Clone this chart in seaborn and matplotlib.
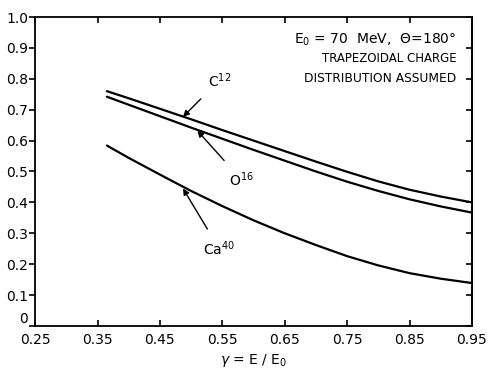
import numpy as np
import pandas as pd
import matplotlib
matplotlib.use("Agg")
import matplotlib.pyplot as plt
import seaborn as sns

# values
gamma = [0.365, 0.40, 0.45, 0.50, 0.55, 0.60, 0.65, 0.70, 0.75, 0.80, 0.85, 0.90, 0.95]
c12 = [0.760, 0.737, 0.703, 0.669, 0.634, 0.600, 0.566, 0.532, 0.499, 0.468, 0.441, 0.419, 0.400]
o16 = [0.742, 0.716, 0.679, 0.642, 0.606, 0.570, 0.535, 0.500, 0.467, 0.437, 0.410, 0.387, 0.367]
ca40 = [0.584, 0.544, 0.490, 0.437, 0.388, 0.342, 0.300, 0.262, 0.226, 0.196, 0.171, 0.153, 0.139]

x_ticks = [0.25, 0.35, 0.45, 0.55, 0.65, 0.75, 0.85, 0.95]
y_ticks = [0, 0.1, 0.2, 0.3, 0.4, 0.5, 0.6, 0.7, 0.8, 0.9, 1.0]
y_tick_labels = ["0", "0.1", "0.2", "0.3", "0.4", "0.5", "0.6", "0.7", "0.8", "0.9", "1.0"]

# (label, text pos, arrow tip)
labels = [
    (r"C$^{12}$", (0.545, 0.795), (0.487, 0.677)),
    (r"O$^{16}$", (0.580, 0.475), (0.510, 0.632)),
    (r"Ca$^{40}$", (0.545, 0.250), (0.487, 0.445)),
]


def main():
    sns.set_style("ticks")
    plt.rcParams["font.family"] = ["DejaVu Sans"]
    plt.rcParams["text.color"] = "black"
    plt.rcParams["axes.labelcolor"] = "black"
    plt.rcParams["xtick.color"] = "black"
    plt.rcParams["ytick.color"] = "black"

    data = pd.DataFrame({
        "gamma": gamma * 3,
        "value": c12 + o16 + ca40,
        "nucleus": ["C12"] * len(gamma) + ["O16"] * len(gamma) + ["Ca40"] * len(gamma),
    })

    fig = plt.figure(figsize=(4.88, 3.70), dpi=100)
    ax = fig.add_axes([0.072, 0.119, 0.895, 0.835])

    sns.lineplot(data=data, x="gamma", y="value", hue="nucleus",
                 palette=["black", "black", "black"], linewidth=1.6,
                 legend=False, ax=ax)

    ax.set_xlim(0.25, 0.95)
    ax.set_ylim(0, 1.0)
    ax.set_xticks(x_ticks)
    ax.set_xticklabels([f"{t:.2f}" for t in x_ticks])
    ax.set_yticks(y_ticks)
    ax.set_yticklabels(y_tick_labels)

    ax.tick_params(axis="x", direction="in", top=True, length=4, width=1.2,
                   labelsize=10, pad=5, colors="black")
    ax.tick_params(axis="y", direction="out", right=False, length=4, width=1.2,
                   labelsize=10, pad=1, colors="black")
    # the "0" sits just above the corner, clear of "0.25"
    ax.get_yticklabels()[0].set_va("bottom")

    # inward ticks on the right side
    ax2 = ax.secondary_yaxis("right")
    ax2.set_yticks(y_ticks)
    ax2.tick_params(direction="in", length=4, width=1.2, labelright=False, colors="black")

    for side in ["left", "right", "top", "bottom"]:
        ax.spines[side].set_visible(True)
        ax.spines[side].set_linewidth(1.3)
        ax.spines[side].set_color("black")
    ax2.spines["right"].set_color("black")
    ax2.spines["right"].set_linewidth(1.3)

    ax.set_xlabel(r"$\gamma$ = E / E$_0$", fontsize=10, labelpad=4)
    ax.set_ylabel("")

    for text, pos, tip in labels:
        ax.annotate(text, xy=tip, xytext=pos, fontsize=10, ha="center", va="center",
                    arrowprops=dict(arrowstyle="-|>", color="black", lw=1.0,
                                    mutation_scale=9, shrinkA=6, shrinkB=0))

    ax.text(0.925, 0.925, r"E$_0$ = 70  MeV,  $\Theta$=180°", fontsize=10, ha="right", va="center")
    ax.text(0.925, 0.866, "TRAPEZOIDAL CHARGE", fontsize=8.5, ha="right", va="center")
    ax.text(0.925, 0.80, "DISTRIBUTION ASSUMED", fontsize=8.8, ha="right", va="center")

    fig.savefig("out.png", dpi=100)


if __name__ == "__main__":
    main()
